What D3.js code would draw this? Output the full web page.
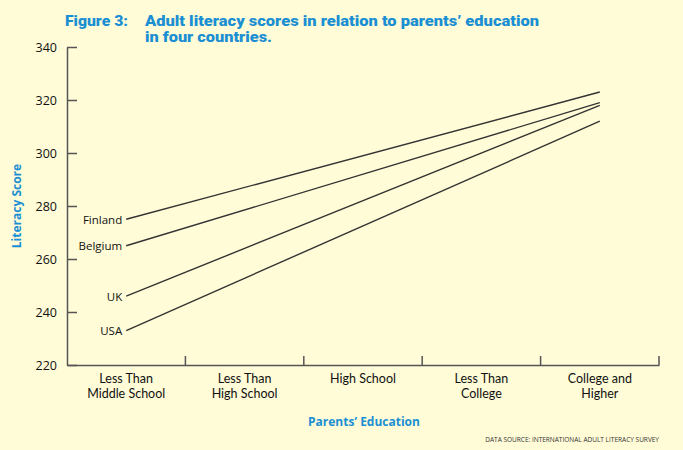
<!DOCTYPE html>
<html>
<head>
<meta charset="utf-8">
<script src="https://cdn.jsdelivr.net/npm/d3@7"></script>
<style>
  body { margin: 0; background: #fffcd7; }
  svg { display: block; }
</style>
</head>
<body>
<div id="chart"></div>
<script>
const categories = [
  ["Less Than", "Middle School"],
  ["Less Than", "High School"],
  ["High School"],
  ["Less Than", "College"],
  ["College and", "Higher"]
];
const countries = ["Finland", "Belgium", "UK", "USA"];
// score at the lowest and highest level of parents' education
const lowScores = [275, 265, 246, 233];
const highScores = [323, 319, 318, 312];
const yTicks = [220, 240, 260, 280, 300, 320, 340];

const width = 683, height = 450;
const margin = { top: 47, right: 24, bottom: 85, left: 67 };
const blue = "#1b8fd3";

const svg = d3.select("#chart")
  .append("svg")
  .attr("width", width)
  .attr("height", height);

svg.append("rect")
  .attr("width", width)
  .attr("height", height)
  .attr("fill", "#fffcd7");

const keys = categories.map(c => c.join(" "));
const x = d3.scaleBand()
  .domain(keys)
  .range([margin.left, width - margin.right]);
const y = d3.scaleLinear()
  .domain([220, 340])
  .range([height - margin.bottom, margin.top]);

// title
const title = svg.append("g")
  .attr("fill", blue)
  .style("font-family", "Roboto, sans-serif")
  .style("font-weight", 900)
  .style("font-size", "14px");
title.append("text").attr("x", 65).attr("y", 26)
  .attr("textLength", 63).attr("lengthAdjust", "spacingAndGlyphs")
  .text("Figure 3:");
title.append("text").attr("x", 145).attr("y", 26)
  .attr("textLength", 394).attr("lengthAdjust", "spacingAndGlyphs")
  .text("Adult literacy scores in relation to parents\u2019 education");
title.append("text").attr("x", 145).attr("y", 42)
  .attr("textLength", 127).attr("lengthAdjust", "spacingAndGlyphs")
  .text("in four countries.");

// y axis
const yAxis = svg.append("g")
  .attr("transform", `translate(${margin.left},0)`)
  .call(d3.axisLeft(y).tickValues(yTicks).tickSize(-10).tickSizeOuter(0).tickPadding(10));
yAxis.selectAll("path, line").attr("stroke", "#555").attr("stroke-width", 1.5);
yAxis.selectAll("text")
  .attr("fill", "#111")
  .style("font-family", "'Open Sans', sans-serif")
  .style("font-size", "12.5px");

// x axis
const xAxis = svg.append("g")
  .attr("transform", `translate(0,${y(220)})`)
  .call(d3.axisBottom(x).tickSize(0).tickSizeOuter(0).tickFormat(""));
xAxis.select(".domain").attr("stroke", "#555").attr("stroke-width", 1.5);
xAxis.selectAll(".tick line").remove();

xAxis.selectAll(".sep")
  .data(keys)
  .enter()
  .append("line")
  .attr("x1", d => x(d) + x.bandwidth())
  .attr("x2", d => x(d) + x.bandwidth())
  .attr("y1", 0)
  .attr("y2", -9)
  .attr("stroke", "#555")
  .attr("stroke-width", 1.5);

// one text per label line
const catLines = [];
categories.forEach((c, i) => c.forEach((t, j) => catLines.push({ key: keys[i], text: t, row: j })));

xAxis.selectAll(".cat")
  .data(catLines)
  .enter()
  .append("text")
  .attr("text-anchor", "middle")
  .attr("fill", "#111")
  .style("font-family", "Lato, sans-serif")
  .style("font-size", "12.5px")
  .attr("x", d => x(d.key) + x.bandwidth() / 2)
  .attr("y", d => 18 + d.row * 14.5)
  .text(d => d.text);

// axis titles
svg.append("text")
  .attr("transform", `translate(21,${(y(220) + y(340)) / 2}) rotate(-90)`)
  .attr("text-anchor", "middle")
  .attr("fill", blue)
  .style("font-family", "'Open Sans', sans-serif")
  .style("font-weight", 700)
  .style("font-size", "12px")
  .text("Literacy Score");

svg.append("text")
  .attr("x", 364)
  .attr("y", 426)
  .attr("text-anchor", "middle")
  .attr("fill", blue)
  .style("font-family", "'Open Sans', sans-serif")
  .style("font-weight", 700)
  .style("font-size", "12px")
  .text("Parents\u2019 Education");

svg.append("text")
  .attr("x", 659)
  .attr("y", 442)
  .attr("text-anchor", "end")
  .attr("fill", "#333")
  .style("font-family", "'Open Sans', sans-serif")
  .style("font-size", "6.5px")
  .text("DATA SOURCE: INTERNATIONAL ADULT LITERACY SURVEY");

// lines
const line = d3.line().x(d => d[0]).y(d => y(d[1]));
const first = keys[0], last = keys[keys.length - 1];
const series = countries.map((c, i) => ({
  name: c,
  points: [
    [x(first) + x.bandwidth() / 2, lowScores[i]],
    [x(last) + x.bandwidth() / 2, highScores[i]]
  ]
}));

svg.append("g")
  .selectAll("path")
  .data(series)
  .enter()
  .append("path")
  .attr("d", d => line(d.points))
  .attr("fill", "none")
  .attr("stroke", "#333")
  .attr("stroke-width", 1.4);

svg.append("g")
  .selectAll("text")
  .data(series)
  .enter()
  .append("text")
  .attr("x", d => d.points[0][0] - 4)
  .attr("y", d => y(d.points[0][1]) + 4.5)
  .attr("text-anchor", "end")
  .attr("fill", "#111")
  .style("font-family", "'Open Sans', sans-serif")
  .style("font-size", "11.5px")
  .text(d => d.name);
</script>
</body>
</html>
